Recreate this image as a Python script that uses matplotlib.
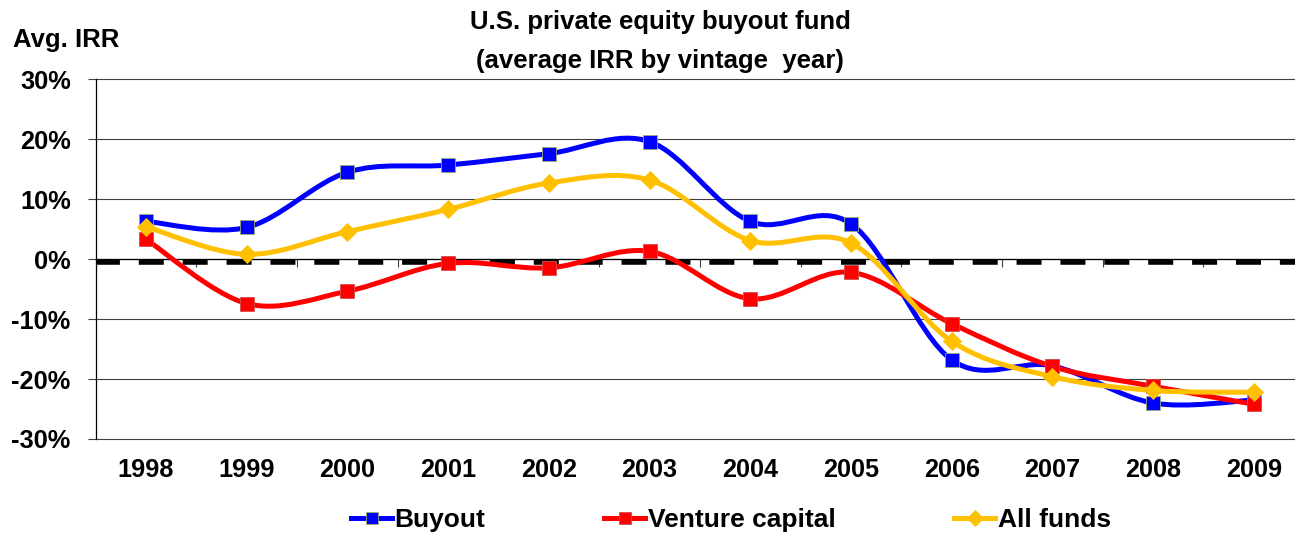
import matplotlib
matplotlib.use("Agg")
import matplotlib.pyplot as plt
from matplotlib.path import Path
from matplotlib.patches import PathPatch
from matplotlib.lines import Line2D
import numpy as np

years = ["1998", "1999", "2000", "2001", "2002", "2003", "2004", "2005",
         "2006", "2007", "2008", "2009"]
buyout = [6.3, 5.3, 14.5, 15.7, 17.6, 19.6, 6.3, 5.9, -16.8, -17.8, -24.0, -23.5]
venture = [3.3, -7.4, -5.35, -0.7, -1.45, 1.3, -6.6, -2.2, -10.75, -17.9, -21.2, -24.2]
all_funds = [5.4, 0.8, 4.6, 8.3, 12.7, 13.2, 3.1, 2.7, -13.7, -19.6, -21.9, -22.2]
zero_ref = -0.55
yticks = [-30, -20, -10, 0, 10, 20, 30]

plt.rcParams['font.family'] = ['Liberation Sans', 'DejaVu Sans']
plt.rcParams['font.weight'] = 'bold'

W, H = 1295, 534
fig = plt.figure(figsize=(W / 100, H / 100), dpi=100)
left_px, top_px, bot_px = 95.7, 79.3, 439.0
step = 100.7
ax = fig.add_axes([left_px / W, 1 - bot_px / H, 12 * step / W, (bot_px - top_px) / H])

x = np.arange(len(years))
ax.set_xlim(-0.5, len(years) - 0.5)
ax.set_ylim(-30, 30)


def smooth_path(xs, ys):
    pts = np.column_stack([xs, ys]).astype(float)
    n = len(pts)
    verts = [pts[0]]
    codes = [Path.MOVETO]
    for i in range(n - 1):
        p0 = pts[i - 1] if i > 0 else pts[i]
        p1 = pts[i]
        p2 = pts[i + 1]
        p3 = pts[i + 2] if i + 2 < n else pts[i + 1]
        c1 = p1 + (p2 - p0) / 6.0
        c2 = p2 - (p3 - p1) / 6.0
        verts += [c1, c2, p2]
        codes += [Path.CURVE4] * 3
    return Path(verts, codes)


# grid lines
for t in yticks:
    ax.axhline(t, color='#404040', lw=0.8, zorder=1, clip_on=False)

# dashed reference line
ax.axhline(zero_ref, color='black', lw=4.0, ls=(0.2, (4.5, 3.4)), zorder=2)

series = [
    ("Buyout", buyout, '#0000FF', 's', 9.5, '#9aaf70'),
    ("Venture capital", venture, '#FF0000', 's', 9.5, '#d05050'),
    ("All funds", all_funds, '#FFC000', 'D', 9.5, '#FFC000'),
]
handles = []
z = 3
for name, vals, col, mk, ms, ec in series:
    patch = PathPatch(smooth_path(x, vals), fill=False, edgecolor=col, lw=3.6,
                      capstyle='round', joinstyle='round', zorder=z)
    ax.add_patch(patch)
    ax.plot(x, vals, ls='none', marker=mk, ms=ms, mfc=col, mec=ec, mew=0.6, zorder=z + 0.5)
    handles.append(Line2D([], [], color=col, lw=3.6, marker=mk, ms=ms * 0.85,
                          mfc=col, mec=ec, mew=0.6, label=name))
    z += 1

# axes styling
for s in ['top', 'right']:
    ax.spines[s].set_visible(False)
ax.spines['left'].set_color('black')
ax.spines['left'].set_linewidth(0.9)
ax.spines['bottom'].set_position(('data', 0))
ax.spines['bottom'].set_color('black')
ax.spines['bottom'].set_linewidth(0.9)
ax.spines['bottom'].set_zorder(2.5)

ax.set_yticks(yticks)
ax.set_yticklabels([f"{t}%" for t in yticks])
ax.tick_params(axis='y', length=6, width=0.8, color='#404040', pad=12,
               labelsize=18.3)
for lbl in ax.get_yticklabels():
    lbl.set_fontweight('bold')

ax.set_xticks(np.arange(-0.5, len(years) + 0.5, 1.0))
ax.set_xticklabels([])
ax.tick_params(axis='x', length=6, width=0.8, color='#404040', direction='out')

label_y = -(470 - bot_px) / (bot_px - top_px)
for i, yr in enumerate(years):
    ax.text(i, label_y, yr, transform=ax.get_xaxis_transform(), ha='center',
            va='center', fontsize=18.2, fontweight='bold', clip_on=False)

# title and y label
fig.text(660 / W, 1 - 22 / H, "U.S. private equity buyout fund", ha='center',
         va='center', fontsize=18.5, fontweight='bold')
fig.text(660 / W, 1 - 61 / H, "(average IRR by vintage  year)", ha='center',
         va='center', fontsize=18.5, fontweight='bold')
fig.text(13 / W, 1 - 40 / H, "Avg. IRR", ha='left', va='center', fontsize=18.5,
         fontweight='bold')

leg = fig.legend(handles=handles, loc='center', bbox_to_anchor=(731 / W, 1 - 520 / H),
                 ncol=3, frameon=False, fontsize=19, handlelength=1.55,
                 handletextpad=0.1, columnspacing=4.5, borderpad=0)
for t in leg.get_texts():
    t.set_fontweight('bold')

fig.savefig("out.png", dpi=100)
